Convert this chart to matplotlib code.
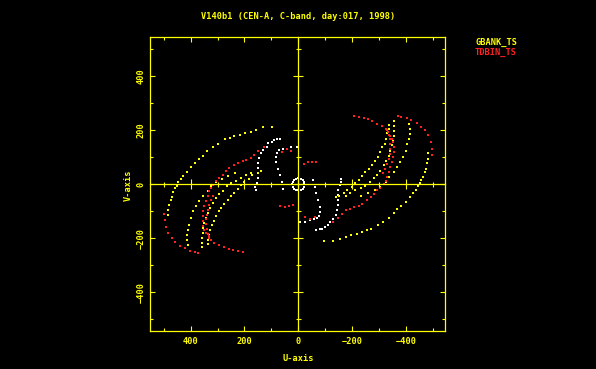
#!/usr/bin/env python3
"""UV coverage plot, AIPS/PGPLOT look: black background, yellow frame."""

import matplotlib

matplotlib.use("Agg")
import matplotlib.pyplot as plt
from matplotlib.ticker import MultipleLocator, NullFormatter
import numpy as np

TITLE = "V140b1 (CEN-A, C-band, day:017, 1998)"
SERIES = ["GBANK_TS", "TDBIN_TS"]

# GBANK_TS tracks (u, v in kilo-lambda); conjugate points are added below
gb_outer_u = [97, 130, 157, 177, 198, 217, 238, 254, 272, 297, 316, 338, 355, 368,
              384, 400, 415, 428, 437, 446, 452, 458, 465, 471, 474, 480, 483, 483]
gb_outer_v = [211, 211, 201, 195, 189, 183, 178, 170, 167, 150, 139, 123, 106, 93,
              80, 65, 47, 32, 20, 7, -5, -15, -27, -46, -58, -77, -95, -114]
gb_mid1_u = [336, 336, 332, 328, 321, 312, 306, 296, 287, 275, 262, 250, 238, 225,
             213, 201, 182, 170, 151, 139]
gb_mid1_v = [-221, -206, -188, -169, -150, -137, -119, -100, -88, -73, -57, -44, -32,
             -16, -4, 9, 21, 33, 42, 48]
gb_mid2_u = [358, 358, 358, 355, 353, 349, 343, 337, 328, 318, 306, 294, 281, 266,
             250, 232, 213, 194, 176]
gb_mid2_v = [-233, -217, -199, -180, -162, -144, -125, -106, -88, -70, -51, -36, -24,
             -7, 5, 13, 23, 33, 42]
gb_mid3_u = [411, 415, 415, 411, 405, 399, 390, 380, 368, 355, 337, 325, 306, 284,
             261, 235]
gb_mid3_v = [-224, -205, -187, -168, -150, -125, -100, -81, -63, -44, -26, -7, 9, 20,
             31, 42]

# TDBIN_TS tracks
td_outer_u = [499, 496, 493, 483, 471, 458, 440, 421, 403, 384, 372]
td_outer_v = [-109, -132, -157, -181, -200, -213, -228, -237, -246, -249, -253]
td_mid_u = [207, 225, 244, 259, 275, 294, 312, 325, 333, 343, 349, 353, 355, 355,
            353, 349, 343, 337, 331, 325, 318, 306, 294, 281, 269, 256, 238, 225,
            207, 194, 176, 164, 148, 129]
td_mid_v = [-251, -248, -244, -240, -233, -224, -217, -205, -193, -180, -168, -156,
            -137, -119, -100, -81, -63, -44, -26, -14, -1, 13, 23, 36, 48, 60, 73,
            79, 85, 91, 97, 110, 125, 139]
td_inner_u = [330, 337, 341, 343, 343, 341, 337, 331, 324, 316]
td_inner_v = [-200, -183, -166, -148, -130, -112, -94, -76, -58, -42]
td_center_u = [68, 50, 35, 20, 62, 43, 25]
td_center_v = [-81, -84, -82, -76, 120, 130, 122]

# short baselines (white, not in the legend)
wt_outer_u = [158, 161, 155, 149, 149, 149, 149, 145, 140, 130, 117, 112, 99, 90, 80, 68]
wt_outer_v = [-21, -9, 4, 22, 41, 59, 78, 96, 115, 127, 139, 152, 158, 164, 167, 168]
wt_inner_u = [56, 62, 68, 74, 81, 82, 78, 70, 57, 43, 25, 6]
wt_inner_v = [-16, 9, 33, 58, 83, 101, 116, 126, 130, 132, 139, 139]
wt_ring_u = [23, 21, 16, 9, 0, -9, -16, -21]
wt_ring_v = [0, 9, 16, 21, 23, 21, 16, 9]

YEL = "#ffff00"
RED = "#ff2020"
WHT = "#ffffff"
FONT = "DejaVu Sans Mono"
FS = 6.2


def with_conjugate(us, vs):
    u = np.concatenate([np.asarray(x, float) for x in us])
    v = np.concatenate([np.asarray(x, float) for x in vs])
    return np.concatenate([u, -u]), np.concatenate([v, -v])


fig = plt.figure(figsize=(5.96, 3.69), dpi=100, facecolor="black")
rect = [150.3 / 596, 1 - 331 / 369, 295 / 596, 293.7 / 369]
ax = fig.add_axes(rect, facecolor="black")
xlim = (550, -547)
ylim = (-543, 544)

groups = [
    ([wt_outer_u, wt_inner_u, wt_ring_u], [wt_outer_v, wt_inner_v, wt_ring_v], WHT),
    ([gb_outer_u, gb_mid1_u, gb_mid2_u, gb_mid3_u],
     [gb_outer_v, gb_mid1_v, gb_mid2_v, gb_mid3_v], YEL),
    ([td_outer_u, td_mid_u, td_inner_u, td_center_u],
     [td_outer_v, td_mid_v, td_inner_v, td_center_v], RED),
]
for us, vs, col in groups:
    u, v = with_conjugate(us, vs)
    ax.scatter(u, v, s=3.6, marker="s", c=col, linewidths=0, zorder=3)

ax.set_xlim(*xlim)
ax.set_ylim(*ylim)
for a in (ax.xaxis, ax.yaxis):
    a.set_major_locator(MultipleLocator(200))
    a.set_minor_locator(MultipleLocator(100))
for sp in ax.spines.values():
    sp.set_color(YEL)
    sp.set_linewidth(0.9)
ax.tick_params(which="both", direction="in", colors=YEL, width=0.8,
               top=True, right=True, labelsize=FS)
ax.tick_params(which="major", length=3.8)
ax.tick_params(which="minor", length=1.9)
ax.tick_params(axis="x", pad=4.5)
ax.tick_params(axis="y", pad=3.5, labelrotation=90)
for lab in ax.get_xticklabels() + ax.get_yticklabels():
    lab.set_family(FONT)
    lab.set_weight("bold")
    lab.set_color(YEL)
for lab in ax.get_yticklabels():
    lab.set_va("center")

# centre cross with its own ticks
ax2 = fig.add_axes(rect, facecolor="none")
ax2.set_xlim(*xlim)
ax2.set_ylim(*ylim)
ax2.spines["left"].set_position(("data", 0))
ax2.spines["bottom"].set_position(("data", 0))
ax2.spines["top"].set_visible(False)
ax2.spines["right"].set_visible(False)
for side in ("left", "bottom"):
    ax2.spines[side].set_color(YEL)
    ax2.spines[side].set_linewidth(0.9)
for a in (ax2.xaxis, ax2.yaxis):
    a.set_major_locator(MultipleLocator(200))
    a.set_minor_locator(MultipleLocator(100))
    a.set_major_formatter(NullFormatter())
ax2.tick_params(which="both", direction="inout", colors=YEL, width=0.8)
ax2.tick_params(which="major", length=6.5)
ax2.tick_params(which="minor", length=3.6)

txt = dict(family=FONT, fontsize=FS, weight="bold")
fig.text(298.3 / 596, 1 - 16.5 / 369, TITLE, ha="center", va="center", color=YEL, **txt)
fig.text(298.3 / 596, 1 - 358.5 / 369, "U-axis", ha="center", va="center", color=YEL, **txt)
fig.text(128.3 / 596, 1 - 185 / 369, "V-axis", ha="center", va="center",
         rotation=90, color=YEL, **txt)
fig.text(475 / 596, 1 - 42.3 / 369, SERIES[0], ha="left", va="center", color=YEL, **txt)
fig.text(475 / 596, 1 - 52 / 369, SERIES[1], ha="left", va="center", color=RED, **txt)

fig.savefig("out.png", dpi=100, facecolor="black")
